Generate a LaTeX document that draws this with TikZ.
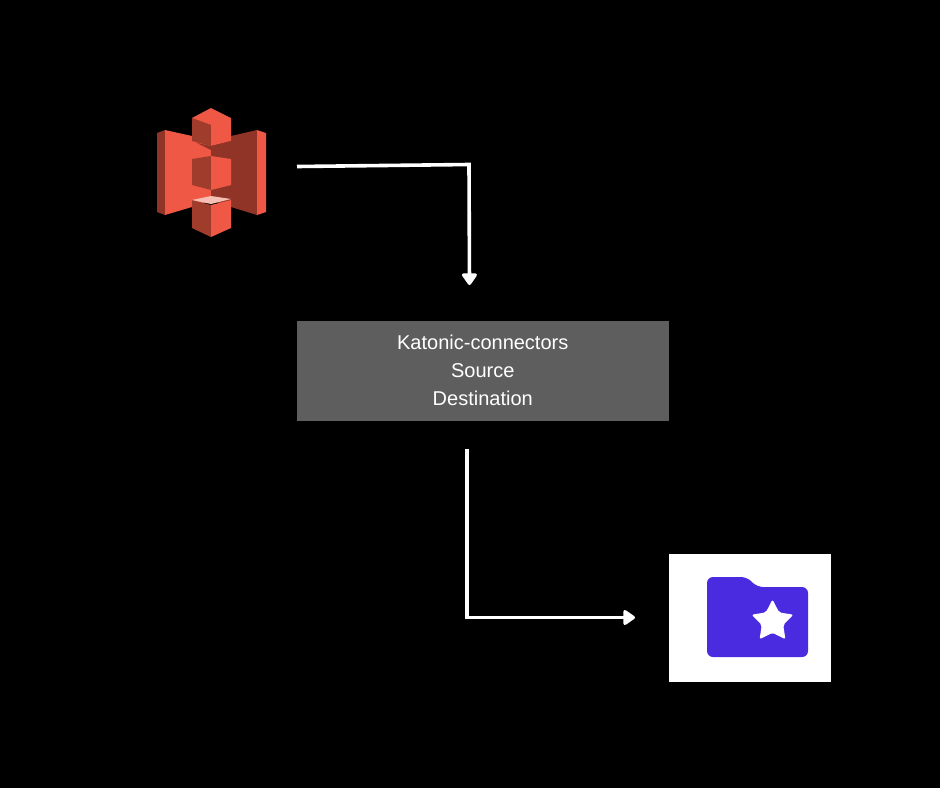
\documentclass[tikz,border=0pt]{standalone}
\usepackage{xcolor}
\usepackage{fontspec}
\setmainfont{Liberation Sans}
\usetikzlibrary{arrows.meta,calc,positioning,shapes.geometric}
\definecolor{bucketlight}{HTML}{F05846}
\definecolor{bucketdark}{HTML}{8F3426}
\definecolor{bucketmid}{HTML}{A03C2C}
\definecolor{bucketpale}{HTML}{F6BFB4}
\definecolor{folderblue}{HTML}{4A2BE0}
\definecolor{boxgray}{HTML}{5E5E5E}

\begin{document}
\begin{tikzpicture}[
  x=1pt,y=-1pt,
  connector/.style={line width=3.6pt,white},
  pointer/.style={connector,-{Triangle[length=13pt,width=17pt,round]}},
  connectorbox/.style={fill=boxgray,minimum width=371.5pt,minimum height=99.5pt,inner sep=0pt,
    text=white,align=center,font=\fontsize{20}{28}\selectfont},
  iconbox/.style={fill=white,minimum width=161.5pt,minimum height=127.5pt,inner sep=0pt},
  bucketbox/.style={minimum width=110pt,minimum height=130pt,inner sep=0pt}
]
  \useasboundingbox[fill=black] (0,0) rectangle (940,788);

  % nodes
  \node[bucketbox] (bucket) at (211.5,172.5) {};
  \node[connectorbox] (connectors) at (482.75,370.75) {Katonic-connectors\\Source\\Destination};
  \node[iconbox] (target) at (749.75,617.75) {};

  % bucket icon: wings
  \fill[bucketdark] (157,133) -- (165,130) -- (165,215) -- (157,212) -- cycle;
  \fill[bucketlight] (165,130) -- (192,136) -- (211,140) -- (211,200) -- (192,207) -- (165,215) -- cycle;
  \fill[bucketdark] (211,140) -- (231,136) -- (257,130) -- (257,215) -- (231,207) -- (211,200) -- cycle;
  \fill[bucketlight] (257,130) -- (266,133) -- (266,212) -- (257,215) -- cycle;
  % top cube
  \fill[bucketmid] (192,118) -- (211,125) -- (211,146) -- (192,141) -- cycle;
  \fill[bucketlight] (211,108) -- (231,118) -- (231,141) -- (211,146) -- (211,125) -- (192,118) -- cycle;
  \fill[bucketdark] (197,143) -- (211,146) -- (231,141) -- (231,143) -- (211,150) -- cycle;
  % middle cube
  \fill[bucketmid] (192,159) -- (211,156) -- (211,190) -- (192,185) -- cycle;
  \fill[bucketlight] (211,156) -- (231,159) -- (231,185) -- (211,190) -- cycle;
  % bottom cube
  \fill[bucketmid] (192,200) -- (211,205) -- (211,237) -- (192,228) -- cycle;
  \fill[bucketlight] (211,205) -- (231,200) -- (231,228) -- (211,237) -- cycle;
  \fill[bucketpale] (192,200) -- (211,196) -- (231,199) -- (211,204) -- cycle;

  % folder icon
  \fill[folderblue,rounded corners=6pt] (707,577) -- (747,577) -- (757,587) -- (808,587)
    -- (808,657) -- (707,657) -- cycle;
  \node[star,star points=5,star point ratio=1.95,fill=white,rounded corners=2pt,
    minimum size=44pt,inner sep=0pt] (favourite) at (772.5,621.5) {};

  % connectors
  \coordinate (bucketout) at (297,166.5);
  \coordinate (bend1) at (469,164.5);
  \coordinate (connectorsin) at (469.5,285);
  \coordinate (connectorsout) at (467,449);
  \coordinate (bend2) at (467,618.5);
  \coordinate (targetstart) at (469,617.5);
  \coordinate (targetin) at (635,617.5);
  \draw[pointer] (bucketout) -- (bend1) -- (connectorsin);
  \draw[connector] (connectorsout) -- (bend2);
  \draw[pointer] (targetstart) -- (targetin);
\end{tikzpicture}
\end{document}
